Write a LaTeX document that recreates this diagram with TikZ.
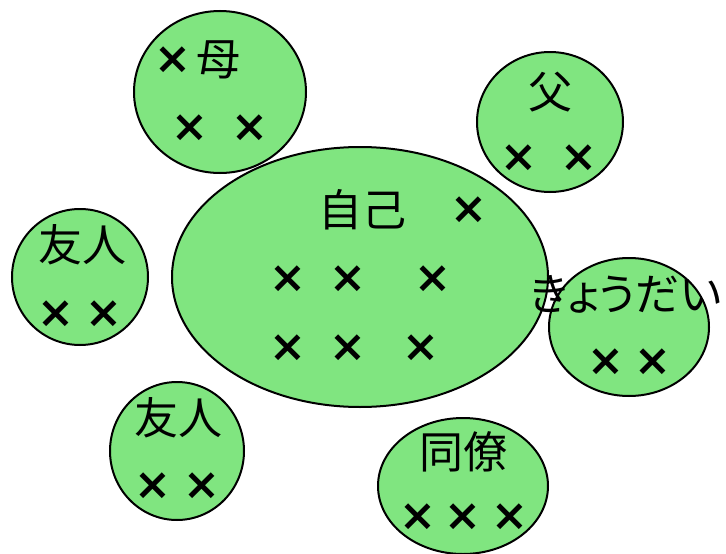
\documentclass[tikz,border=0pt]{standalone}
\usepackage{fontspec}
\newfontfamily\jp{Noto Sans CJK JP}
\newfontfamily\jpp[RawFeature=+palt]{Noto Sans CJK JP}
\newfontfamily\xf{DejaVu Sans}
\definecolor{grp}{RGB}{128,229,128}
\tikzset{
  blob/.style={draw=black, line width=2pt, fill=grp},
  lbl/.style={inner sep=0pt, font=\jp\fontsize{44}{44}\selectfont},
  xm/.style={inner sep=0pt, font=\xf\bfseries\fontsize{44}{44}\selectfont}
}
\begin{document}
\begin{tikzpicture}[x=1pt,y=-1pt]
\useasboundingbox (0,0) rectangle (726,554);
% shapes
\path[blob] (360,277) ellipse [x radius=188, y radius=130];
\path[blob] (220,92) ellipse [x radius=86, y radius=81];
\path[blob] (550,122) ellipse [x radius=73, y radius=70];
\path[blob] (80,277) ellipse [x radius=68, y radius=68];
\path[blob] (629,327) ellipse [x radius=80, y radius=69];
\path[blob] (177,451) ellipse [x radius=67, y radius=69];
\path[blob] (463,486) ellipse [x radius=85, y radius=68];
% mother
\node[xm] (m0) at (173,60) {×};
\node[lbl] (mt) at (218,60) {母};
\node[xm] (m1) at (190,128) {×};
\node[xm] (m2) at (250,128) {×};
% father
\node[lbl] (ft) at (550,92) {父};
\node[xm] (f1) at (519,158) {×};
\node[xm] (f2) at (579,158) {×};
% self
\node[lbl] (st) at (362,210) {自己};
\node[xm] (s0) at (469,210) {×};
\node[xm] (s1) at (288,279) {×};
\node[xm] (s2) at (348,279) {×};
\node[xm] (s3) at (433,279) {×};
\node[xm] (s4) at (288,348) {×};
\node[xm] (s5) at (348,348) {×};
\node[xm] (s6) at (421,348) {×};
% friend left
\node[lbl] (at) at (82,245) {友人};
\node[xm] (a1) at (56,314) {×};
\node[xm] (a2) at (104,314) {×};
% siblings
\node[lbl, font=\jpp\fontsize{44}{44}\selectfont] (kt) at (626,294) {きょうだい};
\node[xm] (k1) at (606,362) {×};
\node[xm] (k2) at (653,362) {×};
% friend lower
\node[lbl] (bt) at (178,418) {友人};
\node[xm] (b1) at (153,486) {×};
\node[xm] (b2) at (202,486) {×};
% colleagues
\node[lbl] (ct) at (463,452) {同僚};
\node[xm] (c1) at (418,517) {×};
\node[xm] (c2) at (463,517) {×};
\node[xm] (c3) at (510,517) {×};
\end{tikzpicture}
\end{document}
